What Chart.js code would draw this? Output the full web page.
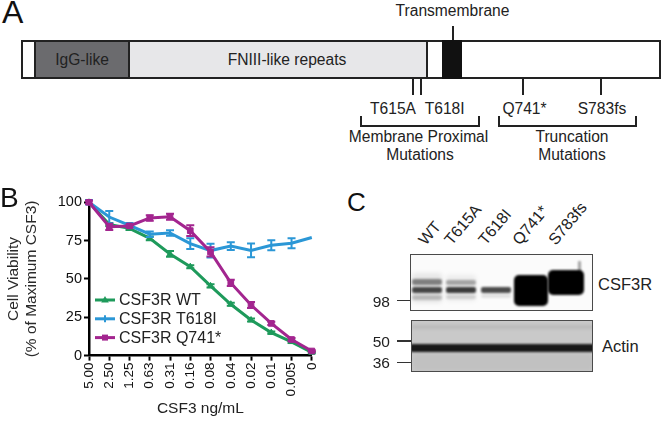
<!DOCTYPE html>
<html><head><meta charset="utf-8">
<script src="https://cdn.jsdelivr.net/npm/chart.js@4/dist/chart.umd.min.js"></script>
<style>
html,body{margin:0;padding:0;background:#fff;}
#fig{position:relative;width:668px;height:421px;overflow:hidden;font-family:"Liberation Sans",Arial,sans-serif;color:#222;}
.t{position:absolute;white-space:nowrap;}
#wrapB{position:absolute;left:0;top:180px;width:330px;height:241px;}
</style></head><body><div id="fig"><div id="wrapB"><canvas id="cB" width="330" height="241"></canvas></div></div>
<script>
// ---------- Panel B data ----------
const doses = ['5.00','2.50','1.25','0.63','0.31','0.16','0.08','0.04','0.02','0.01','0.005','0'];
const wtVals    = [100, 85.5, 83, 76.5, 66.3, 58, 45.5, 33.5, 23.2, 15, 9, 2];
const wtErr     = [0, 1, 1, 1.2, 1.9, 1, 1, 1, 1, 0.8, 0.8, 0.5];
const t618Vals  = [100, 90.4, 85, 79.2, 80, 73, 68.5, 71.4, 68.6, 72, 73.3, 77];
const t618Err   = [1.5, 4, 1.5, 1.8, 1.8, 3.5, 4.5, 2.5, 4.5, 3.3, 3.3, 0];
const q741Vals  = [100, 84, 84.6, 89.8, 90.6, 81.5, 67.6, 47.4, 33, 21, 10.5, 3];
const q741Err   = [1, 2, 1, 1.8, 2, 3.5, 3, 2, 2, 1, 1, 0.5];
const seriesNames = ['CSF3R WT','CSF3R T618I','CSF3R Q741*'];
const yTicks = [0, 25, 50, 75, 100];

// ---------- Panel C labels ----------
const lanes = ['WT','T615A','T618I','Q741*','S783fs'];
const markers = ['98','50','36'];

const FONT = '"Liberation Sans", Arial, sans-serif';
const GREEN = '#1e9a5b', BLUE = '#2b97d6', MAG = '#a3258f';
const fig = document.getElementById('fig');

function txt(s, x, y, size, align, extra){
  const d = document.createElement('div');
  d.className = 't';
  d.textContent = s;
  d.style.fontSize = size + 'px';
  d.style.lineHeight = size + 'px';
  d.style.top = (y - size/2) + 'px';
  if (align === 'center'){ d.style.left = (x - 150) + 'px'; d.style.width = '300px'; d.style.textAlign = 'center'; }
  else if (align === 'right'){ d.style.left = (x - 300) + 'px'; d.style.width = '300px'; d.style.textAlign = 'right'; }
  else { d.style.left = x + 'px'; }
  if (extra) d.style.cssText += extra;
  fig.appendChild(d);
  return d;
}
function box(parent, x, y, w, h, css){
  const d = document.createElement('div');
  d.style.cssText = `position:absolute;left:${x}px;top:${y}px;width:${w}px;height:${h}px;box-sizing:border-box;` + (css||'');
  parent.appendChild(d);
  return d;
}

// ---------- Panel A (domain diagram) ----------
const FA = 15.6;
txt('A', 2, 12, 32, 'left', 'color:#111;');
txt('Transmembrane', 452.5, 11, FA, 'center');
box(fig, 451.5, 26, 2, 15, 'background:#222;');
box(fig, 21, 40, 640, 39, 'border:2px solid #222;background:#fff;');
box(fig, 34, 40, 96, 39, 'background:#6b6b6e;border:2px solid #222;');
box(fig, 128, 40, 300, 39, 'background:#e7e7e9;border:2px solid #222;');
box(fig, 442, 40, 20, 39, 'background:#111;');
txt('IgG-like', 82, 60, FA, 'center');
txt('FNIII-like repeats', 287, 60, FA, 'center');
[413, 420.5, 523.3, 601.3].forEach(x => box(fig, x - 1, 78, 2, 17, 'background:#222;'));
txt('T615A', 393, 108.5, FA, 'center');
txt('T618I', 444.7, 108.5, FA, 'center');
txt('Q741*', 524.5, 108.5, FA, 'center');
txt('S783fs', 602, 108.5, FA, 'center');
box(fig, 360, 116, 120, 11, 'border:2px solid #222;border-top:none;');
box(fig, 498, 116, 139, 11, 'border:2px solid #222;border-top:none;');
txt('Membrane Proximal', 418.5, 137, FA, 'center');
txt('Mutations', 420, 155, FA, 'center');
txt('Truncation', 572, 137, FA, 'center');
txt('Mutations', 572, 155, FA, 'center');

// ---------- Panel B letter ----------
txt('B', 0, 198, 28, 'left', 'color:#111;');

// ---------- Panel C (blot) ----------
txt('C', 347, 202, 26, 'left', 'color:#111;');
const laneStart = [428, 454, 488, 522, 558];
lanes.forEach((s, i) => {
  const d = document.createElement('div');
  d.className = 't';
  d.textContent = s;
  d.style.cssText += `font-size:16px;line-height:16px;left:${laneStart[i]}px;top:${248-16}px;transform-origin:0 100%;transform:rotate(-50deg);`;
  fig.appendChild(d);
});
const blotTop = box(fig, 410, 254, 183, 57, 'border:1.5px solid #4a4a4a;background:#fbfbfb;overflow:hidden;');
const band = (p, x, y, w, h, a, r, b) => box(p, x, y, w, h, `background:rgba(0,0,0,${a});border-radius:${r||2}px;filter:blur(${b||1.2}px);`);
// WT
band(blotTop, 1, 18, 30, 30, 0.08, 3, 2);
band(blotTop, 1, 24, 30, 6, 0.45); band(blotTop, 1, 32, 30, 6, 0.7); band(blotTop, 1, 40, 30, 5, 0.2);
// T615A
band(blotTop, 35, 20, 30, 26, 0.06, 3, 2);
band(blotTop, 35, 25, 30, 5, 0.3); band(blotTop, 35, 32, 30, 6, 0.75); band(blotTop, 35, 40, 30, 4, 0.12);
// T618I
band(blotTop, 70, 32, 30, 6, 0.7); band(blotTop, 70, 39, 30, 4, 0.1);
// Q741*
band(blotTop, 103, 20, 34, 31, 1, 5, 1);
// S783fs
band(blotTop, 137, 15, 36, 25, 1, 5, 1);
band(blotTop, 167, 6, 3, 14, 0.35, 1, 0.8);

const blotBot = box(fig, 411, 320, 182, 52, 'border:1.5px solid #4a4a4a;background:#c9c9c9;overflow:hidden;');
band(blotBot, 0, 4, 182, 4, 0.07, 1, 1.5);
band(blotBot, -2, 23, 186, 8, 0.88, 2, 1);
band(blotBot, 0, 32, 182, 18, 0.04, 1, 3);

txt(markers[0], 390, 301.5, 15.5, 'right');
txt(markers[1], 390, 341.5, 15.5, 'right');
txt(markers[2], 390, 362.5, 15.5, 'right');
box(fig, 397, 299.5, 13, 1.5, 'background:#333;');
box(fig, 397, 340, 14, 1.5, 'background:#333;');
box(fig, 397, 361.5, 14, 1.5, 'background:#333;');
txt('CSF3R', 598, 284, 16.5, 'left');
txt('Actin', 602, 346.5, 16.5, 'left');

// ---------- Panel B chart ----------
Chart.defaults.font.family = FONT;
const errPlugin = {
  id: 'errbars',
  afterDatasetDraw(chart, args){
    const ds = chart.data.datasets[args.index];
    const err = ds.errors; if (!err) return;
    const ys = chart.scales.y, ctx = chart.ctx;
    ctx.save();
    ctx.strokeStyle = ds.borderColor; ctx.lineWidth = 2;
    args.meta.data.forEach((pt, i) => {
      const e = err[i]; if (!e) return;
      const v = ds.data[i];
      const t = ys.getPixelForValue(v + e), b = ys.getPixelForValue(v - e);
      ctx.beginPath();
      ctx.moveTo(pt.x, t); ctx.lineTo(pt.x, b);
      ctx.moveTo(pt.x - 4, t); ctx.lineTo(pt.x + 4, t);
      ctx.moveTo(pt.x - 4, b); ctx.lineTo(pt.x + 4, b);
      ctx.stroke();
    });
    ctx.restore();
  }
};
function marker(ctx, style, x, y, color){
  ctx.fillStyle = color; ctx.strokeStyle = color; ctx.lineWidth = 2;
  ctx.beginPath();
  if (style === 'triangle'){ ctx.moveTo(x, y - 4); ctx.lineTo(x + 3.8, y + 2.6); ctx.lineTo(x - 3.8, y + 2.6); ctx.closePath(); ctx.fill(); }
  else if (style === 'rect'){ ctx.rect(x - 3, y - 3, 6, 6); ctx.fill(); }
  else { ctx.moveTo(x, y - 3.5); ctx.lineTo(x, y + 3.5); ctx.stroke(); }
}
const legendPlugin = {
  id: 'inlegend',
  afterDraw(chart){
    const ctx = chart.ctx, a = chart.chartArea;
    const offs = [55.6, 36.8, 18];
    ctx.save();
    chart.data.datasets.forEach((ds, i) => {
      const y = a.bottom - offs[i];
      ctx.strokeStyle = ds.borderColor; ctx.lineWidth = 3;
      ctx.beginPath(); ctx.moveTo(a.left + 6, y); ctx.lineTo(a.left + 26, y); ctx.stroke();
      marker(ctx, ds.legendMarker, a.left + 16, y, ds.borderColor);
      ctx.fillStyle = '#222'; ctx.font = '16px ' + FONT; ctx.textBaseline = 'middle'; ctx.textAlign = 'left';
      ctx.fillText(ds.label, a.left + 30, y + 1);
    });
    ctx.restore();
  }
};
const axisGrid = {display: true, drawOnChartArea: false, drawTicks: true, tickLength: 5, tickWidth: 2, tickColor: '#000'};
new Chart(document.getElementById('cB'), {
  type: 'line',
  data: {
    labels: doses,
    datasets: [
      {label: seriesNames[0], data: wtVals, errors: wtErr, borderColor: GREEN, backgroundColor: GREEN, pointStyle: 'triangle', pointRadius: 3.5, legendMarker: 'triangle', order: 2},
      {label: seriesNames[1], data: t618Vals, errors: t618Err, borderColor: BLUE, backgroundColor: BLUE, pointStyle: 'cross', pointRadius: 0, legendMarker: 'cross', order: 1},
      {label: seriesNames[2], data: q741Vals, errors: q741Err, borderColor: MAG, backgroundColor: MAG, pointStyle: 'rect', pointRadius: 4, legendMarker: 'rect', order: 0}
    ]
  },
  options: {
    responsive: false, animation: false, devicePixelRatio: 1,
    layout: {padding: {top: 22.3, right: 11, left: 0, bottom: 0}},
    elements: {line: {borderWidth: 3, tension: 0}, point: {borderWidth: 1}},
    datasets: {line: {clip: false}},
    plugins: {legend: {display: false}, tooltip: {enabled: false}},
    scales: {
      x: {
        type: 'category', offset: false,
        grid: axisGrid,
        border: {display: true, color: '#000', width: 2.5},
        ticks: {minRotation: 90, maxRotation: 90, autoSkip: false, padding: 2, color: '#111', font: {size: 13.5}},
        title: {display: true, text: 'CSF3 ng/mL', color: '#222', font: {size: 15.5}, padding: {top: 0, bottom: 3}},
        afterFit(s){ s.height = 65.4; }
      },
      y: {
        min: 0, max: 100,
        afterBuildTicks(s){ s.ticks = yTicks.map(v => ({value: v})); },
        grid: axisGrid,
        border: {display: true, color: '#000', width: 2.5},
        ticks: {padding: 2, color: '#111', font: {size: 14.5}},
        title: {display: true, text: ['Cell Viability', '(% of Maximum CSF3)'], color: '#2a2a2a', font: {size: 15.5, lineHeight: 1.16}, padding: {top: 5, bottom: 0}},
        afterFit(s){ s.width = 89; }
      }
    }
  },
  plugins: [errPlugin, legendPlugin]
});
</script></body></html>
